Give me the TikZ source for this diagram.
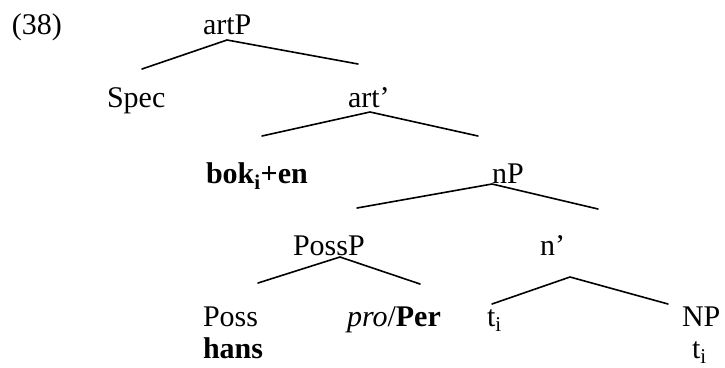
\documentclass[tikz,border=0pt]{standalone}
\usepackage{fontspec}
\setmainfont{Liberation Serif}
\begin{document}
\begin{tikzpicture}[x=1pt,y=-1pt,
  lbl/.style={anchor=base west,inner sep=0pt,outer sep=0pt,font=\fontsize{30}{35}\selectfont},
  branch/.style={line width=1.6pt,line cap=round}]
\useasboundingbox (0,0) rectangle (725,367);
% labels
\node[lbl] (ex) at (12,34) {(38)};
\node[lbl] (artP) at (203,34) {artP};
\node[lbl] (spec) at (107,107) {Spec};
\node[lbl] (artbar) at (348,107) {art’};
\node[lbl] (boken) at (206,183) {\textbf{bok\textsubscript{i}+en}};
\node[lbl] (nP) at (492,183) {nP};
\node[lbl] (PossP) at (293,255) {PossP};
\node[lbl] (nbar) at (540,255) {n’};
\node[lbl] (poss) at (203,326) {Poss};
\node[lbl] (proper) at (347,326) {\textit{pro}/\textbf{Per}};
\node[lbl] (ti) at (487,326) {t\textsubscript{i}};
\node[lbl] (NP) at (682,326) {NP};
\node[lbl] (hans) at (203,358) {\textbf{hans}};
\node[lbl] (tiNP) at (692,358) {t\textsubscript{i}};
% branch points
\coordinate (a0) at (227,40);  \coordinate (a1) at (142,69);  \coordinate (a2) at (358,64);
\coordinate (b0) at (370,112); \coordinate (b1) at (262,136); \coordinate (b2) at (478,136);
\coordinate (c0) at (492,184); \coordinate (c1) at (357,208); \coordinate (c2) at (598,209);
\coordinate (d0) at (340,257); \coordinate (d1) at (258,283); \coordinate (d2) at (420,284);
\coordinate (e0) at (570,277); \coordinate (e1) at (492,304); \coordinate (e2) at (668,304);
\draw[branch] (a1) -- (a0) -- (a2);
\draw[branch] (b1) -- (b0) -- (b2);
\draw[branch] (c1) -- (c0) -- (c2);
\draw[branch] (d1) -- (d0) -- (d2);
\draw[branch] (e1) -- (e0) -- (e2);
\end{tikzpicture}
\end{document}
